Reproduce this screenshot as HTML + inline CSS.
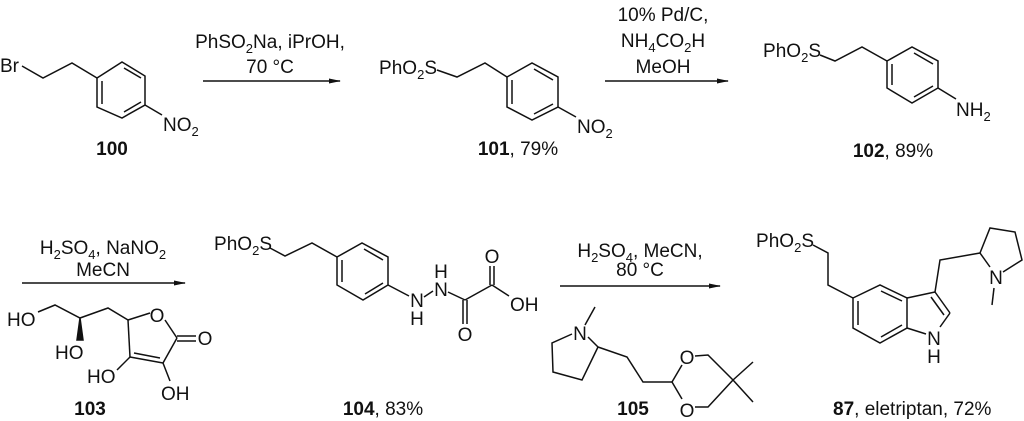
<!DOCTYPE html>
<html><head><meta charset="utf-8"><style>
html,body{margin:0;padding:0;background:#fff;}
svg{display:block;}
text{font-family:"Liberation Sans",Arial,sans-serif;font-size:19px;fill:#111;}
.s{font-size:13px;}
.b{font-weight:bold;}
.m{text-anchor:middle;}
.e{text-anchor:end;}
line,polyline,polygon{stroke:#111;stroke-width:1.5;fill:none;}
</style></head><body>
<svg width="1024" height="421" viewBox="0 0 1024 421">
<defs><marker id="ah" markerWidth="12" markerHeight="8" refX="11" refY="4" orient="auto" markerUnits="userSpaceOnUse"><polygon points="0,1.5 12,4 0,6.5" style="fill:#111;stroke:none"/></marker></defs>

<!-- 100 -->
<text x="0" y="72">Br</text>
<polyline points="22,66 43,78 72,63 97,78"/>
<polygon points="97,78 122,62 145,76 145,105 122,118 97,107"/>
<line x1="102" y1="81" x2="102" y2="104"/><line x1="124" y1="68" x2="141" y2="78"/><line x1="124" y1="112" x2="141" y2="102"/>
<line x1="145" y1="105" x2="162" y2="115"/>
<text x="163" y="131">NO<tspan class="s" dy="5">2</tspan></text>
<text class="b m" x="112" y="155">100</text>

<!-- arrow 1 -->
<text class="m" x="270" y="48">PhSO<tspan class="s" dy="5">2</tspan><tspan dy="-5">Na, iPrOH,</tspan></text>
<text class="m" x="270" y="73">70 °C</text>
<line x1="203" y1="81" x2="340" y2="81" marker-end="url(#ah)"/>

<!-- 101 -->
<text class="e" x="437" y="74">PhO<tspan class="s" dy="5">2</tspan><tspan dy="-5">S</tspan></text>
<polyline points="437,70 457,77 485,63 507,77"/>
<polygon points="507,77 532,63 558,77 558,107 532,120 507,107"/>
<line x1="512" y1="80" x2="512" y2="104"/><line x1="534" y1="69" x2="553" y2="80"/><line x1="534" y1="114" x2="553" y2="104"/>
<line x1="558" y1="107" x2="576" y2="117"/>
<text x="577" y="133">NO<tspan class="s" dy="5">2</tspan></text>
<text class="m" x="518" y="155"><tspan class="b">101</tspan>, 79%</text>

<!-- arrow 2 -->
<text class="m" x="663" y="21">10% Pd/C,</text>
<text class="m" x="663" y="47">NH<tspan class="s" dy="5">4</tspan><tspan dy="-5">CO</tspan><tspan class="s" dy="5">2</tspan><tspan dy="-5">H</tspan></text>
<text class="m" x="663" y="73">MeOH</text>
<line x1="605" y1="81" x2="728" y2="81" marker-end="url(#ah)"/>

<!-- 102 -->
<text class="e" x="821" y="57">PhO<tspan class="s" dy="5">2</tspan><tspan dy="-5">S</tspan></text>
<polyline points="820,55 835,61 862,47 887,61"/>
<polygon points="887,61 912,47 938,61 938,88 912,103 887,88"/>
<line x1="892" y1="64" x2="892" y2="85"/><line x1="914" y1="53" x2="933" y2="64"/><line x1="914" y1="97" x2="933" y2="86"/>
<line x1="938" y1="88" x2="956" y2="99"/>
<text x="956" y="116">NH<tspan class="s" dy="5">2</tspan></text>
<text class="m" x="893" y="157"><tspan class="b">102</tspan>, 89%</text>

<!-- arrow 3 -->
<text class="m" x="103" y="254">H<tspan class="s" dy="5">2</tspan><tspan dy="-5">SO</tspan><tspan class="s" dy="5">4</tspan><tspan dy="-5">, NaNO</tspan><tspan class="s" dy="5">2</tspan></text>
<text class="m" x="103" y="276">MeCN</text>
<line x1="22" y1="283" x2="185" y2="283" marker-end="url(#ah)"/>

<!-- 103 -->
<text x="7" y="326">HO</text>
<polyline points="38,312 55,305 80,318 108,308 128,320"/>
<polygon points="80,318 77,340 83,340" style="fill:#111"/>
<text x="55" y="359">HO</text>
<line x1="128" y1="320" x2="150" y2="313"/>
<text class="m" x="157" y="322">O</text>
<line x1="165" y1="320" x2="177" y2="338"/>
<line x1="177" y1="336" x2="196" y2="336"/><line x1="177" y1="341" x2="196" y2="341"/>
<text class="m" x="205" y="345">O</text>
<line x1="177" y1="338" x2="163" y2="363"/>
<line x1="163" y1="363" x2="130" y2="357"/><line x1="160" y1="358" x2="134" y2="353"/>
<line x1="130" y1="357" x2="128" y2="320"/>
<line x1="163" y1="363" x2="170" y2="381"/>
<text x="161" y="400">OH</text>
<line x1="130" y1="357" x2="117" y2="370"/>
<text x="87" y="383">HO</text>
<text class="b m" x="90" y="415">103</text>

<!-- 104 -->
<text class="e" x="272" y="250">PhO<tspan class="s" dy="5">2</tspan><tspan dy="-5">S</tspan></text>
<polyline points="270,248 285,256 312,243 337,257"/>
<polygon points="337,257 362,243 388,257 388,285 363,300 337,285"/>
<line x1="342" y1="260" x2="342" y2="282"/><line x1="364" y1="249" x2="383" y2="260"/><line x1="365" y1="294" x2="383" y2="283"/>
<line x1="388" y1="285" x2="409" y2="296"/>
<text class="m" x="417" y="307">N</text>
<text class="m" x="417" y="325">H</text>
<line x1="424" y1="297" x2="433" y2="291"/>
<text class="m" x="441" y="296">N</text>
<text class="m" x="441" y="278">H</text>
<line x1="448" y1="292" x2="465" y2="300"/>
<line x1="463" y1="300" x2="463" y2="324"/><line x1="467" y1="300" x2="467" y2="324"/>
<text class="m" x="465" y="341">O</text>
<line x1="465" y1="300" x2="492" y2="285"/>
<line x1="490" y1="285" x2="490" y2="266"/><line x1="494" y1="285" x2="494" y2="266"/>
<text class="m" x="492" y="263">O</text>
<line x1="492" y1="285" x2="509" y2="296"/>
<text x="510" y="311">OH</text>
<text class="m" x="383" y="415"><tspan class="b">104</tspan>, 83%</text>

<!-- arrow 4 -->
<text class="m" x="640" y="257">H<tspan class="s" dy="5">2</tspan><tspan dy="-5">SO</tspan><tspan class="s" dy="5">4</tspan><tspan dy="-5">, MeCN,</tspan></text>
<text class="m" x="640" y="276">80 °C</text>
<line x1="560" y1="286" x2="720" y2="286" marker-end="url(#ah)"/>

<!-- 105 -->
<text class="m" x="580" y="340">N</text>
<line x1="585" y1="325" x2="595" y2="307"/>
<polyline points="588,337 598,347 582,380 553,372 552,343 572,334"/>
<polyline points="598,347 627,357 643,382 672,382"/>
<line x1="672" y1="382" x2="682" y2="365"/>
<text class="m" x="687" y="364">O</text>
<line x1="672" y1="382" x2="682" y2="399"/>
<text class="m" x="687" y="417">O</text>
<polyline points="695,356 708,355 733,380 708,407 695,407"/>
<line x1="733" y1="380" x2="753" y2="362"/><line x1="733" y1="380" x2="753" y2="402"/>
<text class="b m" x="633" y="415">105</text>

<!-- 87 -->
<text class="e" x="814" y="247">PhO<tspan class="s" dy="5">2</tspan><tspan dy="-5">S</tspan></text>
<polyline points="813,245 828,253 828,285 853,298"/>
<polygon points="853,298 880,285 907,298 907,328 880,343 853,328"/>
<line x1="858" y1="301" x2="858" y2="325"/><line x1="881" y1="291" x2="902" y2="301"/><line x1="881" y1="337" x2="902" y2="325"/>
<line x1="907" y1="298" x2="935" y2="292"/>
<line x1="935" y1="292" x2="950" y2="313"/><line x1="931" y1="297" x2="944" y2="315"/>
<line x1="950" y1="313" x2="940" y2="327"/>
<line x1="907" y1="328" x2="926" y2="334"/>
<text class="m" x="934" y="345">N</text>
<text class="m" x="934" y="363">H</text>
<polyline points="935,292 940,260 980,253"/>
<polyline points="980,253 990,228 1015,232 1022,260 1003,272"/>
<line x1="980" y1="253" x2="990" y2="267"/>
<text class="m" x="996" y="284">N</text>
<line x1="994" y1="288" x2="992" y2="305"/>
<text x="833" y="415"><tspan class="b">87</tspan>, eletriptan, 72%</text>
</svg>
</body></html>
